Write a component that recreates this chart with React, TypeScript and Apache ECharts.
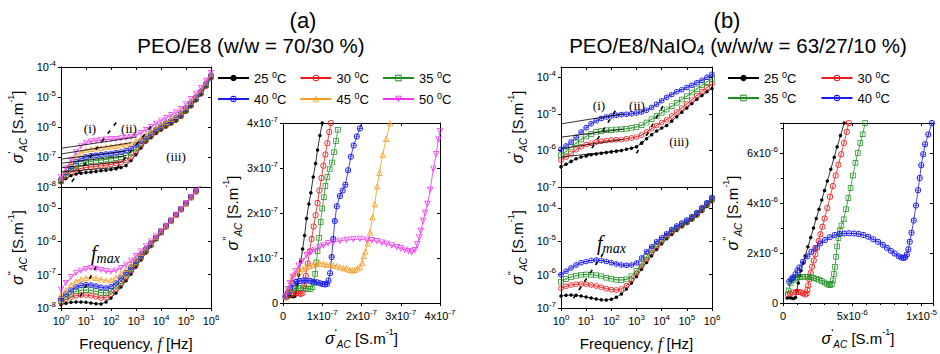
import { useEffect, useRef } from 'react';
import * as echarts from 'echarts';

const FONT = '"Liberation Sans", Arial, Helvetica, sans-serif';
const SERIF = '"Liberation Serif", "Times New Roman", serif';

// ---------------- frequencies (Hz) ----------------
const freqHz = [1, 1.58, 2.51, 3.98, 6.31, 10, 15.8, 25.1, 39.8, 63.1, 100, 158, 251, 398, 631, 1000, 1580, 2510, 3980, 6310, 1e4, 1.58e4, 2.51e4, 3.98e4, 6.31e4, 1e5, 1.58e5, 2.51e5, 3.98e5, 6.31e5, 1e6];

// ---------------- panel (a): sigma' (S/m) ----------------
const aRe25 = [1.41e-8, 1.91e-8, 2.40e-8, 2.69e-8, 2.88e-8, 3.02e-8, 3.16e-8, 3.31e-8, 3.47e-8, 3.63e-8, 3.80e-8, 4.07e-8, 4.47e-8, 5.25e-8, 7.59e-8, 1.20e-7, 2.0e-7, 3.16e-7, 4.37e-7, 6.03e-7, 7.94e-7, 1.0e-6, 1.26e-6, 1.58e-6, 2.14e-6, 3.16e-6, 4.79e-6, 7.59e-6, 1.20e-5, 2.19e-5, 4.17e-5];
const aRe30 = [1.51e-8, 2.24e-8, 3.16e-8, 3.80e-8, 4.17e-8, 4.47e-8, 4.68e-8, 4.90e-8, 5.13e-8, 5.37e-8, 5.62e-8, 6.03e-8, 6.61e-8, 7.59e-8, 1.0e-7, 1.51e-7, 2.40e-7, 3.55e-7, 5.01e-7, 6.76e-7, 8.71e-7, 1.10e-6, 1.35e-6, 1.70e-6, 2.29e-6, 3.39e-6, 5.13e-6, 8.13e-6, 1.29e-5, 2.34e-5, 4.47e-5];
const aRe35 = [1.58e-8, 2.51e-8, 3.80e-8, 5.01e-8, 6.03e-8, 6.76e-8, 7.24e-8, 7.59e-8, 7.94e-8, 8.32e-8, 8.71e-8, 9.33e-8, 1.0e-7, 1.12e-7, 1.38e-7, 1.91e-7, 2.82e-7, 3.98e-7, 5.62e-7, 7.59e-7, 9.77e-7, 1.23e-6, 1.51e-6, 1.91e-6, 2.51e-6, 3.72e-6, 5.62e-6, 8.91e-6, 1.41e-5, 2.51e-5, 4.79e-5];
const aRe40 = [1.78e-8, 3.02e-8, 4.79e-8, 6.92e-8, 8.71e-8, 1.0e-7, 1.10e-7, 1.15e-7, 1.20e-7, 1.26e-7, 1.32e-7, 1.38e-7, 1.48e-7, 1.62e-7, 1.91e-7, 2.51e-7, 3.47e-7, 4.68e-7, 6.31e-7, 8.32e-7, 1.07e-6, 1.35e-6, 1.66e-6, 2.09e-6, 2.75e-6, 4.07e-6, 6.17e-6, 9.77e-6, 1.55e-5, 2.75e-5, 5.25e-5];
const aRe45 = [1.91e-8, 3.55e-8, 6.31e-8, 1.05e-7, 1.45e-7, 1.70e-7, 1.86e-7, 1.95e-7, 2.04e-7, 2.14e-7, 2.24e-7, 2.34e-7, 2.45e-7, 2.63e-7, 2.88e-7, 3.39e-7, 4.27e-7, 5.50e-7, 7.24e-7, 9.55e-7, 1.20e-6, 1.51e-6, 1.86e-6, 2.34e-6, 3.09e-6, 4.57e-6, 6.92e-6, 1.07e-5, 1.70e-5, 3.02e-5, 5.75e-5];
const aRe50 = [2.09e-8, 4.17e-8, 7.94e-8, 1.45e-7, 2.29e-7, 2.95e-7, 3.31e-7, 3.47e-7, 3.63e-7, 3.80e-7, 3.89e-7, 3.98e-7, 4.17e-7, 4.37e-7, 4.68e-7, 5.25e-7, 6.31e-7, 7.94e-7, 1.0e-6, 1.29e-6, 1.62e-6, 2.0e-6, 2.45e-6, 3.02e-6, 3.98e-6, 5.75e-6, 8.51e-6, 1.29e-5, 2.0e-5, 3.47e-5, 6.31e-5];

// ---------------- panel (a): sigma'' (S/m) ----------------
const aIm25 = [1.26e-8, 1.38e-8, 1.48e-8, 1.51e-8, 1.51e-8, 1.48e-8, 1.41e-8, 1.35e-8, 1.32e-8, 1.51e-8, 2.0e-8, 2.82e-8, 4.27e-8, 6.61e-8, 1.05e-7, 1.70e-7, 2.75e-7, 4.47e-7, 7.08e-7, 1.12e-6, 1.74e-6, 2.63e-6, 3.98e-6, 6.03e-6, 9.12e-6, 1.38e-5, 2.09e-5, 3.16e-5, 4.79e-5, 7.24e-5, 1.10e-4];
const aIm30 = [1.51e-8, 1.82e-8, 2.14e-8, 2.34e-8, 2.45e-8, 2.45e-8, 2.34e-8, 2.19e-8, 2.0e-8, 2.09e-8, 2.63e-8, 3.63e-8, 5.37e-8, 8.13e-8, 1.26e-7, 2.0e-7, 3.16e-7, 5.01e-7, 7.76e-7, 1.20e-6, 1.82e-6, 2.75e-6, 4.07e-6, 6.03e-6, 8.91e-6, 1.35e-5, 2.04e-5, 3.09e-5, 4.68e-5, 7.08e-5, 1.07e-4];
const aIm35 = [1.66e-8, 2.14e-8, 2.69e-8, 3.16e-8, 3.39e-8, 3.47e-8, 3.39e-8, 3.16e-8, 2.88e-8, 2.82e-8, 3.31e-8, 4.47e-8, 6.46e-8, 9.55e-8, 1.45e-7, 2.24e-7, 3.55e-7, 5.50e-7, 8.32e-7, 1.26e-6, 1.91e-6, 2.82e-6, 4.17e-6, 6.17e-6, 9.12e-6, 1.38e-5, 2.09e-5, 3.16e-5, 4.79e-5, 7.24e-5, 1.10e-4];
const aIm40 = [1.91e-8, 2.63e-8, 3.47e-8, 4.27e-8, 4.79e-8, 5.01e-8, 4.90e-8, 4.57e-8, 4.17e-8, 3.98e-8, 4.37e-8, 5.62e-8, 7.94e-8, 1.15e-7, 1.70e-7, 2.57e-7, 3.98e-7, 6.03e-7, 8.91e-7, 1.32e-6, 1.95e-6, 2.88e-6, 4.27e-6, 6.31e-6, 9.33e-6, 1.41e-5, 2.14e-5, 3.24e-5, 4.90e-5, 7.41e-5, 1.12e-4];
const aIm45 = [2.51e-8, 3.55e-8, 5.01e-8, 6.31e-8, 7.41e-8, 8.13e-8, 8.32e-8, 7.94e-8, 7.24e-8, 6.76e-8, 6.92e-8, 8.32e-8, 1.10e-7, 1.51e-7, 2.14e-7, 3.09e-7, 4.57e-7, 6.61e-7, 9.55e-7, 1.38e-6, 2.0e-6, 2.88e-6, 4.27e-6, 6.31e-6, 9.33e-6, 1.41e-5, 2.14e-5, 3.24e-5, 4.90e-5, 7.41e-5, 1.12e-4];
const aIm50 = [3.55e-8, 5.62e-8, 8.32e-8, 1.10e-7, 1.32e-7, 1.48e-7, 1.55e-7, 1.51e-7, 1.38e-7, 1.26e-7, 1.23e-7, 1.32e-7, 1.58e-7, 2.0e-7, 2.63e-7, 3.63e-7, 5.01e-7, 7.08e-7, 1.0e-6, 1.41e-6, 2.04e-6, 2.95e-6, 4.27e-6, 6.31e-6, 9.33e-6, 1.41e-5, 2.14e-5, 3.24e-5, 4.90e-5, 7.41e-5, 1.12e-4];

// ---------------- panel (a): Nyquist, units of 1e-7 S/m ----------------
const nyqA25Re = [0.05, 0.1, 0.15, 0.2, 0.25, 0.3, 0.33, 0.36, 0.4, 0.45, 0.5, 0.55, 0.6, 0.66, 0.71, 0.77, 0.83, 0.88, 0.94, 1.0];
const nyqA25Im = [0.15, 0.14, 0.14, 0.15, 0.14, 0.15, 0.22, 0.4, 0.62, 0.92, 1.2, 1.5, 1.88, 2.2, 2.45, 2.8, 3.1, 3.4, 3.72, 4.0];
const nyqA30Re = [0.08, 0.14, 0.2, 0.27, 0.34, 0.4, 0.45, 0.5, 0.54, 0.58, 0.63, 0.68, 0.73, 0.78, 0.83, 0.88, 0.93, 0.98, 1.03, 1.08, 1.13, 1.18, 1.22];
const nyqA30Im = [0.12, 0.16, 0.19, 0.21, 0.22, 0.22, 0.2, 0.22, 0.38, 0.6, 0.88, 1.15, 1.42, 1.7, 1.95, 2.22, 2.5, 2.78, 3.05, 3.3, 3.55, 3.8, 4.0];
const nyqA35Re = [0.08, 0.15, 0.22, 0.3, 0.38, 0.45, 0.52, 0.58, 0.64, 0.7, 0.75, 0.79, 0.82, 0.85, 0.88, 0.92, 0.96, 1.0, 1.04, 1.08, 1.13, 1.19, 1.25, 1.3, 1.35, 1.4];
const nyqA35Im = [0.15, 0.25, 0.3, 0.32, 0.33, 0.33, 0.33, 0.32, 0.31, 0.31, 0.35, 0.45, 0.65, 0.9, 1.15, 1.45, 1.8, 2.1, 2.35, 2.6, 2.8, 2.97, 3.12, 3.35, 3.6, 3.85];
const nyqA40Re = [0.06, 0.12, 0.18, 0.26, 0.34, 0.43, 0.52, 0.6, 0.69, 0.77, 0.86, 0.94, 1.01, 1.07, 1.12, 1.16, 1.2, 1.24, 1.28, 1.32, 1.37, 1.45, 1.52, 1.59, 1.66, 1.73, 1.8, 1.88, 1.96, 2.03];
const nyqA40Im = [0.14, 0.22, 0.33, 0.44, 0.47, 0.49, 0.5, 0.5, 0.49, 0.48, 0.46, 0.44, 0.42, 0.41, 0.42, 0.5, 0.66, 1.02, 1.42, 1.82, 2.15, 2.38, 2.5, 2.63, 2.95, 3.25, 3.5, 3.7, 3.88, 4.1];
const nyqA45Re = [0.07, 0.14, 0.2, 0.26, 0.34, 0.43, 0.51, 0.59, 0.68, 0.77, 0.86, 0.94, 1.03, 1.11, 1.2, 1.28, 1.37, 1.45, 1.54, 1.62, 1.7, 1.77, 1.83, 1.9, 1.96, 2.02, 2.06, 2.1, 2.16, 2.22, 2.28, 2.34, 2.4, 2.46, 2.54, 2.63, 2.73];
const nyqA45Im = [0.15, 0.32, 0.5, 0.62, 0.68, 0.72, 0.76, 0.8, 0.83, 0.85, 0.87, 0.88, 0.87, 0.85, 0.85, 0.84, 0.82, 0.8, 0.78, 0.77, 0.74, 0.73, 0.74, 0.77, 0.8, 0.9, 1.05, 1.15, 1.33, 1.57, 1.91, 2.2, 2.6, 2.9, 3.3, 3.65, 4.0];
const nyqA50Re = [0.07, 0.12, 0.18, 0.25, 0.32, 0.4, 0.48, 0.6, 0.71, 0.82, 0.93, 1.03, 1.15, 1.28, 1.45, 1.62, 1.79, 1.96, 2.13, 2.26, 2.39, 2.52, 2.64, 2.77, 2.9, 3.0, 3.1, 3.2, 3.28, 3.36, 3.42, 3.47, 3.51, 3.57, 3.62, 3.68, 3.75, 3.83, 3.9, 3.96, 4.0];
const nyqA50Im = [0.15, 0.3, 0.44, 0.58, 0.7, 0.82, 0.93, 1.06, 1.13, 1.18, 1.24, 1.28, 1.32, 1.35, 1.38, 1.4, 1.41, 1.42, 1.4, 1.39, 1.37, 1.34, 1.31, 1.28, 1.24, 1.21, 1.18, 1.15, 1.13, 1.17, 1.3, 1.45, 1.6, 1.82, 2.0, 2.2, 2.51, 2.98, 3.3, 3.63, 3.81];

// ---------------- panel (b): sigma' (S/m) ----------------
const bRe25 = [3.55e-7, 4.17e-7, 5.01e-7, 5.89e-7, 6.61e-7, 7.08e-7, 7.59e-7, 7.94e-7, 8.32e-7, 8.71e-7, 9.12e-7, 9.55e-7, 1.0e-6, 1.07e-6, 1.15e-6, 1.26e-6, 1.58e-6, 2.09e-6, 2.69e-6, 3.39e-6, 4.07e-6, 4.79e-6, 6.31e-6, 8.32e-6, 1.10e-5, 1.45e-5, 1.91e-5, 2.51e-5, 3.16e-5, 3.98e-5, 4.90e-5];
const bRe30 = [5.50e-7, 6.61e-7, 8.32e-7, 1.05e-6, 1.26e-6, 1.45e-6, 1.58e-6, 1.70e-6, 1.78e-6, 1.86e-6, 1.91e-6, 1.95e-6, 2.0e-6, 2.09e-6, 2.19e-6, 2.34e-6, 2.63e-6, 3.16e-6, 3.89e-6, 4.79e-6, 5.75e-6, 6.92e-6, 8.71e-6, 1.12e-5, 1.45e-5, 1.86e-5, 2.40e-5, 3.16e-5, 4.07e-5, 5.25e-5, 6.61e-5];
const bRe35 = [7.41e-7, 9.33e-7, 1.23e-6, 1.58e-6, 2.0e-6, 2.40e-6, 2.82e-6, 3.16e-6, 3.39e-6, 3.55e-6, 3.63e-6, 3.72e-6, 3.80e-6, 3.89e-6, 4.07e-6, 4.37e-6, 4.90e-6, 5.75e-6, 7.08e-6, 8.71e-6, 1.07e-5, 1.32e-5, 1.62e-5, 2.0e-5, 2.45e-5, 3.02e-5, 3.80e-5, 4.79e-5, 6.03e-5, 7.41e-5, 9.12e-5];
const bRe40 = [1.07e-6, 1.32e-6, 1.70e-6, 2.29e-6, 3.16e-6, 4.17e-6, 5.37e-6, 6.46e-6, 7.41e-6, 8.13e-6, 8.71e-6, 9.12e-6, 9.55e-6, 9.77e-6, 1.0e-5, 1.05e-5, 1.12e-5, 1.26e-5, 1.48e-5, 1.82e-5, 2.29e-5, 2.82e-5, 3.39e-5, 3.98e-5, 4.57e-5, 5.25e-5, 6.03e-5, 7.08e-5, 8.32e-5, 1.0e-4, 1.20e-4];

// ---------------- panel (b): sigma'' (S/m) ----------------
const bIm25 = [2.29e-7, 2.40e-7, 2.45e-7, 2.40e-7, 2.29e-7, 2.14e-7, 2.0e-7, 1.86e-7, 1.78e-7, 1.74e-7, 1.82e-7, 2.09e-7, 2.63e-7, 3.72e-7, 5.62e-7, 8.91e-7, 1.45e-6, 2.34e-6, 3.72e-6, 5.75e-6, 8.51e-6, 1.20e-5, 1.62e-5, 2.14e-5, 2.75e-5, 3.47e-5, 4.37e-5, 5.75e-5, 7.94e-5, 1.12e-4, 1.58e-4];
const bIm30 = [3.89e-7, 4.47e-7, 4.90e-7, 5.13e-7, 5.25e-7, 5.13e-7, 4.90e-7, 4.57e-7, 4.17e-7, 3.80e-7, 3.55e-7, 3.47e-7, 3.72e-7, 4.68e-7, 6.92e-7, 1.10e-6, 1.78e-6, 2.88e-6, 4.57e-6, 6.92e-6, 1.0e-5, 1.38e-5, 1.82e-5, 2.40e-5, 3.02e-5, 3.72e-5, 4.68e-5, 6.31e-5, 8.71e-5, 1.23e-4, 1.78e-4];
const bIm35 = [6.17e-7, 7.41e-7, 8.51e-7, 9.33e-7, 1.0e-6, 1.02e-6, 1.0e-6, 9.55e-7, 8.91e-7, 8.13e-7, 7.59e-7, 7.08e-7, 6.92e-7, 7.24e-7, 8.91e-7, 1.32e-6, 2.14e-6, 3.47e-6, 5.50e-6, 8.13e-6, 1.12e-5, 1.51e-5, 2.0e-5, 2.57e-5, 3.24e-5, 3.98e-5, 5.01e-5, 6.76e-5, 9.33e-5, 1.32e-4, 1.91e-4];
const bIm40 = [1.0e-6, 1.26e-6, 1.58e-6, 1.95e-6, 2.29e-6, 2.51e-6, 2.69e-6, 2.75e-6, 2.69e-6, 2.51e-6, 2.29e-6, 2.09e-6, 1.95e-6, 1.91e-6, 1.95e-6, 2.24e-6, 3.16e-6, 5.01e-6, 7.08e-6, 1.0e-5, 1.32e-5, 1.74e-5, 2.29e-5, 2.88e-5, 3.55e-5, 4.37e-5, 5.50e-5, 7.41e-5, 1.02e-4, 1.45e-4, 2.09e-4];

// ---------------- panel (b): Nyquist, units of 1e-6 S/m ----------------
const nyqB25Re = [0.3, 0.45, 0.6, 0.75, 0.9, 1.0, 1.1, 1.2, 1.3, 1.45, 1.6, 1.8, 2.0, 2.2, 2.4, 2.6, 2.8, 3.0, 3.2, 3.45, 3.7, 3.91, 4.15, 4.42];
const nyqB25Im = [0.2, 0.22, 0.2, 0.18, 0.22, 0.5, 0.8, 1.1, 1.3, 1.6, 1.88, 2.25, 2.62, 3.0, 3.38, 3.75, 4.12, 4.5, 4.88, 5.35, 5.83, 6.25, 6.7, 7.2];
const nyqB30Re = [0.35, 0.5, 0.7, 0.95, 1.15, 1.3, 1.45, 1.6, 1.7, 1.76, 1.82, 1.9, 2.0, 2.1, 2.22, 2.34, 2.46, 2.58, 2.7, 2.85, 3.0, 3.2, 3.4, 3.6, 3.8, 4.0, 4.2, 4.4, 4.6, 4.75];
const nyqB30Im = [0.35, 0.38, 0.42, 0.44, 0.44, 0.42, 0.38, 0.34, 0.38, 0.52, 0.7, 0.95, 1.2, 1.45, 1.7, 1.95, 2.2, 2.48, 2.75, 3.05, 3.38, 3.8, 4.25, 4.68, 5.1, 5.53, 5.95, 6.4, 6.85, 7.2];
const nyqB35Re = [0.4, 0.55, 0.7, 0.85, 1.0, 1.2, 1.4, 1.6, 1.8, 2.0, 2.2, 2.4, 2.6, 2.8, 3.0, 3.15, 3.3, 3.42, 3.52, 3.6, 3.68, 3.75, 3.83, 3.91, 4.0, 4.1, 4.22, 4.38, 4.55, 4.72, 4.88, 5.05, 5.23, 5.4, 5.58, 5.75, 5.93];
const nyqB35Im = [0.5, 0.8, 0.92, 0.98, 1.02, 1.04, 1.05, 1.05, 1.05, 1.03, 1.0, 0.97, 0.93, 0.88, 0.82, 0.77, 0.73, 0.72, 0.76, 0.9, 1.16, 1.45, 1.85, 2.26, 2.6, 2.9, 3.1, 3.35, 3.75, 4.2, 4.6, 5.1, 5.61, 6.0, 6.4, 6.75, 7.2];
const nyqB40Re = [0.45, 0.6, 0.72, 0.9, 1.05, 1.18, 1.45, 1.76, 2.05, 2.34, 2.68, 3.03, 3.38, 3.73, 4.08, 4.42, 4.77, 5.12, 5.46, 5.81, 6.16, 6.51, 6.86, 7.2, 7.5, 7.78, 8.06, 8.35, 8.55, 8.7, 8.82, 8.94, 9.05, 9.15, 9.28, 9.44, 9.6, 9.75, 9.87, 9.98, 10.12, 10.26, 10.49, 10.75];
const nyqB40Im = [0.85, 0.95, 1.02, 1.15, 1.3, 1.42, 1.65, 1.87, 2.05, 2.2, 2.38, 2.52, 2.63, 2.72, 2.76, 2.78, 2.79, 2.78, 2.76, 2.72, 2.65, 2.55, 2.45, 2.33, 2.21, 2.09, 1.98, 1.87, 1.82, 1.8, 1.83, 1.94, 2.15, 2.45, 2.81, 3.3, 3.9, 4.51, 5.0, 5.51, 5.95, 6.35, 6.74, 7.2];

// ---------------- guide lines (data coordinates) ----------------
const aPlateauLines = [
  [[1, 3.2e-8], [250, 4.6e-8]],
  [[1, 4.4e-8], [300, 7.0e-8]],
  [[1, 6.2e-8], [400, 1.1e-7]],
  [[1, 8.5e-8], [400, 1.6e-7]],
  [[1, 1.26e-7], [630, 3.0e-7]],
  [[1, 1.95e-7], [1000, 4.6e-7]],
];
const aBoundaryI = [[2.7, 1.5e-8], [170, 1.5e-6]];
const aBoundaryII = [[170, 4.2e-8], [5800, 1.5e-6]];
const aFmaxLine = [[5.8, 2.2e-8], [27, 1.9e-7]];
const bPlateauLines = [
  [[1, 6.6e-7], [300, 1.0e-6]],
  [[1, 1.12e-6], [300, 2.0e-6]],
  [[1, 2.3e-6], [300, 3.8e-6]],
  [[1, 5.3e-6], [300, 1.0e-5]],
];
const bBoundaryI = [[10.5, 6.8e-7], [162, 1.38e-5]];
const bBoundaryII = [[1000, 8.3e-7], [11700, 1.7e-5]];
const bFmaxLine = [[3.1, 1.95e-7], [48, 4.4e-6]];

const legendRowsA = [['25 °C', '30 °C', '35 °C'], ['40 °C', '45 °C', '50 °C']];
const legendRowsB = [['25 °C', '30 °C'], ['35 °C', '40 °C']];

// ---------------- symbols ----------------
const SYM_RING_DOT = 'path://M10,0A10,10 0 1,1 10,20A10,10 0 1,1 10,0ZM10,2.6A7.4,7.4 0 1,0 10,17.4A7.4,7.4 0 1,0 10,2.6ZM10,8A2,2 0 1,1 10,12A2,2 0 1,1 10,8Z';
const SYM_SQUARE_DOT = 'path://M0,0H20V20H0ZM2.6,2.6V17.4H17.4V2.6ZM8,8H12V12H8Z';
const SYM_CIRCLE_PLUS = 'path://M10,0A10,10 0 1,1 10,20A10,10 0 1,1 10,0ZM10,2.6A7.4,7.4 0 1,0 10,17.4A7.4,7.4 0 1,0 10,2.6ZM2.6,9H17.4V11H2.6ZM9,2.6H11V17.4H9Z';
const SYM_TRI_UP = 'path://M10,0L20,20H0ZM10,4.9L3.6,17.8H16.4ZM10,12A1.8,1.8 0 1,1 10,15.6A1.8,1.8 0 1,1 10,12Z';
const SYM_TRI_DOWN = 'path://M0,0H20L10,20ZM3.6,2.2L10,15.1L16.4,2.2ZM10,4.4A1.8,1.8 0 1,1 10,8A1.8,1.8 0 1,1 10,4.4Z';

const STYLE: Record<string, { color: string; symbol: string; left: number; nyq: number }> = {
  '25 °C': { color: '#000000', symbol: 'circle', left: 3.5, nyq: 3.5 },
  '30 °C': { color: '#f01a1a', symbol: SYM_RING_DOT, left: 5.5, nyq: 6 },
  '35 °C': { color: '#1e8f1e', symbol: SYM_SQUARE_DOT, left: 5.5, nyq: 5.5 },
  '40 °C': { color: '#1a1aee', symbol: SYM_CIRCLE_PLUS, left: 5.5, nyq: 6 },
  '45 °C': { color: '#f39c1f', symbol: SYM_TRI_UP, left: 6, nyq: 6.5 },
  '50 °C': { color: '#ee33ee', symbol: SYM_TRI_DOWN, left: 6, nyq: 6.5 },
};

const panelA = [
  { name: '25 °C', re: aRe25, im: aIm25, nre: nyqA25Re, nim: nyqA25Im },
  { name: '30 °C', re: aRe30, im: aIm30, nre: nyqA30Re, nim: nyqA30Im },
  { name: '35 °C', re: aRe35, im: aIm35, nre: nyqA35Re, nim: nyqA35Im },
  { name: '40 °C', re: aRe40, im: aIm40, nre: nyqA40Re, nim: nyqA40Im },
  { name: '45 °C', re: aRe45, im: aIm45, nre: nyqA45Re, nim: nyqA45Im },
  { name: '50 °C', re: aRe50, im: aIm50, nre: nyqA50Re, nim: nyqA50Im },
];
const panelB = [
  { name: '25 °C', re: bRe25, im: bIm25, nre: nyqB25Re, nim: nyqB25Im },
  { name: '30 °C', re: bRe30, im: bIm30, nre: nyqB30Re, nim: nyqB30Im },
  { name: '35 °C', re: bRe35, im: bIm35, nre: nyqB35Re, nim: nyqB35Im },
  { name: '40 °C', re: bRe40, im: bIm40, nre: nyqB40Re, nim: nyqB40Im },
];

// ---------------- helpers ----------------
const pairs = (xs: number[], ys: number[]) => xs.map((x, i) => [x, ys[i]]);

const labelRich = {
  b: { fontSize: 11, lineHeight: 16, fontFamily: FONT, color: '#000' },
  s: { fontSize: 8, lineHeight: 7, verticalAlign: 'top', fontFamily: FONT, color: '#000' },
};

const nameRich = {
  g: { fontSize: 16, fontStyle: 'italic', fontFamily: FONT, lineHeight: 22, color: '#000' },
  p: { fontSize: 11, fontFamily: FONT, lineHeight: 10, verticalAlign: 'top', color: '#000' },
  a: { fontSize: 10, fontStyle: 'italic', fontFamily: FONT, lineHeight: 10, verticalAlign: 'bottom', color: '#000' },
  t: { fontSize: 15, fontFamily: FONT, lineHeight: 22, color: '#000' },
  s: { fontSize: 9, fontFamily: FONT, lineHeight: 10, verticalAlign: 'top', color: '#000' },
  f: { fontSize: 16, fontStyle: 'italic', fontFamily: SERIF, lineHeight: 22, color: '#000' },
};

const sigmaName = (primes: string) => `{g|σ}{p|${primes}}{a|AC}{t| [S.m}{s|-1}{t|]}`;
const freqName = '{t|Frequency, }{f|f}{t| [Hz]}';

const decadeLabel = (v: number) => {
  const e = Math.log10(v);
  const r = Math.round(e);
  if (Math.abs(e - r) > 0.02) return '';
  return `{b|10}{s|${r}}`;
};

const sciLabel = (unitExp: number) => (v: number) => {
  if (Math.abs(v) < 1e-9) return '{b|0}';
  const e = Math.floor(Math.log10(v) + 1e-9);
  const m = Math.round(v / Math.pow(10, e));
  return `{b|${m}x10}{s|${e + unitExp}}`;
};

type AxisCfg = {
  type: 'log' | 'value';
  min: number;
  max: number;
  labels: boolean;
  showMax: boolean;
  formatter?: (v: number) => string;
  interval?: number;
  minorSplit?: number;
  name?: string;
  nameGap?: number;
};

function mainAxis(grid: number, pos: string, c: AxisCfg) {
  const ax: any = {
    type: c.type,
    gridIndex: grid,
    position: pos,
    min: c.min,
    max: c.max,
    axisLine: { show: true, onZero: false, lineStyle: { color: '#000', width: 1 } },
    axisTick: { show: true, inside: false, length: 3, lineStyle: { color: '#000', width: 1 } },
    axisLabel: {
      show: c.labels,
      formatter: c.formatter,
      rich: labelRich,
      margin: 5,
      showMaxLabel: c.showMax,
      showMinLabel: true,
      color: '#000',
      fontFamily: FONT,
    },
    splitLine: { show: false },
  };
  if (c.type === 'log') ax.logBase = 10;
  if (c.interval !== undefined) ax.interval = c.interval;
  if (c.minorSplit) ax.minorTick = { show: true, splitNumber: c.minorSplit, length: 2, lineStyle: { color: '#000' } };
  if (c.name) {
    ax.name = c.name;
    ax.nameLocation = 'middle';
    ax.nameGap = c.nameGap;
    ax.nameTextStyle = { rich: nameRich, color: '#000', fontFamily: FONT };
    if (pos === 'left') ax.nameRotate = 90;
  }
  return ax;
}

function mirrorAxis(grid: number, pos: string, c: AxisCfg) {
  const ax: any = {
    type: c.type,
    gridIndex: grid,
    position: pos,
    min: c.min,
    max: c.max,
    axisLine: { show: true, onZero: false, lineStyle: { color: '#000', width: 1 } },
    axisTick: { show: true, inside: true, length: 3, lineStyle: { color: '#000', width: 1 } },
    axisLabel: { show: false },
    splitLine: { show: false },
  };
  if (c.type === 'log') ax.logBase = 10;
  if (c.interval !== undefined) ax.interval = c.interval;
  return ax;
}

function dataSeries(name: string, grid: number, data: number[][], size: number, z: number) {
  const st = STYLE[name];
  return {
    type: 'line',
    name,
    xAxisIndex: grid * 2,
    yAxisIndex: grid * 2,
    data,
    symbol: st.symbol,
    symbolSize: size,
    symbolKeepAspect: true,
    showSymbol: true,
    clip: true,
    silent: true,
    lineStyle: { color: st.color, width: 0.8 },
    itemStyle: { color: st.color },
    emphasis: { disabled: true },
    z,
  };
}

function guideSeries(grid: number, data: number[][], dashed: boolean) {
  return {
    type: 'line',
    xAxisIndex: grid * 2,
    yAxisIndex: grid * 2,
    data,
    symbol: 'none',
    silent: true,
    clip: true,
    lineStyle: { color: '#000', width: dashed ? 1.6 : 0.8, type: dashed ? [4, 6] : 'solid' },
    emphasis: { disabled: true },
    z: 6,
  };
}

function text(x: number, y: number, str: string, size: number, family: string, extra: any = {}) {
  return {
    type: 'text',
    x,
    y,
    silent: true,
    z: 100,
    style: { text: str, fill: '#000', fontSize: size, fontFamily: family, align: 'center', verticalAlign: 'middle', ...extra },
  };
}

function buildOption() {
  const grids = [
    { left: 61, top: 67, width: 150, height: 120 },
    { left: 61, top: 187, width: 150, height: 121 },
    { left: 283, top: 123, width: 157, height: 184 },
    { left: 561, top: 67, width: 151, height: 120 },
    { left: 561, top: 187, width: 151, height: 121 },
    { left: 783, top: 123, width: 156, height: 185 },
  ];

  const xCfg: AxisCfg[] = [
    { type: 'log', min: 1, max: 1e6, labels: false, showMax: true, formatter: decadeLabel },
    { type: 'log', min: 1, max: 1e6, labels: true, showMax: true, formatter: decadeLabel, name: freqName, nameGap: 24 },
    { type: 'value', min: 0, max: 4, interval: 1, labels: true, showMax: true, formatter: sciLabel(-7), name: sigmaName("'"), nameGap: 24 },
    { type: 'log', min: 1, max: 1e6, labels: false, showMax: true, formatter: decadeLabel },
    { type: 'log', min: 1, max: 1e6, labels: true, showMax: true, formatter: decadeLabel, name: freqName, nameGap: 24 },
    { type: 'value', min: 0, max: 10.83, interval: 5, minorSplit: 5, labels: true, showMax: false, formatter: sciLabel(-6), name: sigmaName("'"), nameGap: 24 },
  ];
  const yCfg: AxisCfg[] = [
    { type: 'log', min: 1e-8, max: 1e-4, labels: true, showMax: true, formatter: decadeLabel, name: sigmaName("'"), nameGap: 33 },
    { type: 'log', min: 1e-8, max: 4.3e-5, labels: true, showMax: false, formatter: decadeLabel, name: sigmaName("''"), nameGap: 33 },
    { type: 'value', min: 0, max: 4, interval: 1, labels: true, showMax: true, formatter: sciLabel(-7), name: sigmaName("''"), nameGap: 36 },
    { type: 'log', min: 1e-7, max: 1.9e-4, labels: true, showMax: false, formatter: decadeLabel, name: sigmaName("'"), nameGap: 33 },
    { type: 'log', min: 1e-7, max: 4.3e-4, labels: true, showMax: false, formatter: decadeLabel, name: sigmaName("''"), nameGap: 33 },
    { type: 'value', min: 0, max: 7.2, interval: 2, minorSplit: 2, labels: true, showMax: false, formatter: sciLabel(-6), name: sigmaName("''"), nameGap: 36 },
  ];
  const xAxis: any[] = [];
  const yAxis: any[] = [];
  grids.forEach((_, g) => {
    xAxis.push(mainAxis(g, 'bottom', xCfg[g]));
    xAxis.push(mirrorAxis(g, 'top', xCfg[g]));
    yAxis.push(mainAxis(g, 'left', yCfg[g]));
    yAxis.push(mirrorAxis(g, 'right', yCfg[g]));
  });

  const series: any[] = [];
  panelA.forEach((p, i) => {
    series.push(dataSeries(p.name, 0, pairs(freqHz, p.re), STYLE[p.name].left, 2 + i * 0.01));
    series.push(dataSeries(p.name, 1, pairs(freqHz, p.im), STYLE[p.name].left, 2 + i * 0.01));
    series.push(dataSeries(p.name, 2, pairs(p.nre, p.nim), STYLE[p.name].nyq, 2 + i * 0.01));
  });
  panelB.forEach((p, i) => {
    series.push(dataSeries(p.name, 3, pairs(freqHz, p.re), STYLE[p.name].left, 2 + i * 0.01));
    series.push(dataSeries(p.name, 4, pairs(freqHz, p.im), STYLE[p.name].left, 2 + i * 0.01));
    series.push(dataSeries(p.name, 5, pairs(p.nre, p.nim), STYLE[p.name].nyq, 2 + i * 0.01));
  });
  aPlateauLines.forEach((l) => series.push(guideSeries(0, l, false)));
  series.push(guideSeries(0, aBoundaryI, true));
  series.push(guideSeries(0, aBoundaryII, true));
  series.push(guideSeries(1, aFmaxLine, true));
  bPlateauLines.forEach((l) => series.push(guideSeries(3, l, false)));
  series.push(guideSeries(3, bBoundaryI, true));
  series.push(guideSeries(3, bBoundaryII, true));
  series.push(guideSeries(4, bFmaxLine, true));

  const legendBase = {
    orient: 'horizontal',
    itemWidth: 31,
    itemHeight: 8,
    selectedMode: false,
    padding: 0,
    textStyle: {
      color: '#000',
      fontFamily: FONT,
      fontSize: 13,
      rich: {
        n: { fontSize: 13, lineHeight: 16, fontFamily: FONT, color: '#000' },
        s: { fontSize: 9, lineHeight: 8, verticalAlign: 'top', fontFamily: FONT, color: '#000' },
      },
    },
    formatter: (name: string) => `{n|${name.replace(' °C', '')} }{s|0}{n|C}`,
  };
  const legend = [
    { ...legendBase, data: legendRowsA[0], left: 217, top: 70, itemGap: 13 },
    { ...legendBase, data: legendRowsA[1], left: 217, top: 91, itemGap: 13 },
    { ...legendBase, data: legendRowsB[0], left: 727, top: 70, itemGap: 24 },
    { ...legendBase, data: legendRowsB[1], left: 727, top: 90, itemGap: 24 },
  ];

  const fmaxRich = {
    f: { fontSize: 20, fontStyle: 'italic', fontFamily: SERIF, lineHeight: 24, fill: '#000' },
    m: { fontSize: 14, fontStyle: 'italic', fontFamily: SERIF, lineHeight: 12, verticalAlign: 'bottom', fill: '#000' },
  };
  const graphic = [
    text(303, 20, '(a)', 22, FONT),
    text(251, 45, 'PEO/E8 (w/w = 70/30 %)', 20.5, FONT),
    text(727, 20, '(b)', 22, FONT),
    text(738, 45, '{t|PEO/E8/NaIO}{s|4}{t| (w/w/w = 63/27/10 %)}', 20.5, FONT, {
      rich: {
        t: { fontSize: 20.5, fontFamily: FONT, lineHeight: 24, fill: '#000' },
        s: { fontSize: 14, fontFamily: FONT, lineHeight: 10, verticalAlign: 'bottom', fill: '#000' },
      },
    }),
    text(90, 128, '(i)', 13, SERIF),
    text(129, 128, '(ii)', 13, SERIF),
    text(176, 156, '(iii)', 13, SERIF),
    text(599, 105, '(i)', 13, SERIF),
    text(637, 105, '(ii)', 13, SERIF),
    text(679, 141, '(iii)', 13, SERIF),
    text(91, 253, '{f|f}{m|max}', 20, SERIF, { align: 'left', rich: fmaxRich }),
    text(597, 243, '{f|f}{m|max}', 20, SERIF, { align: 'left', rich: fmaxRich }),
  ];

  return {
    animation: false,
    backgroundColor: '#ffffff',
    textStyle: { fontFamily: FONT },
    grid: grids.map((g) => ({ ...g, containLabel: false, show: false })),
    xAxis,
    yAxis,
    legend,
    series,
    graphic,
  };
}

export default function App() {
  const ref = useRef<HTMLDivElement>(null);
  useEffect(() => {
    if (!ref.current) return;
    const chart = echarts.init(ref.current, undefined, { renderer: 'svg', width: 940, height: 354 });
    chart.setOption(buildOption() as any);
    return () => chart.dispose();
  }, []);
  return (
    <div
      ref={ref}
      style={{ position: 'absolute', left: 0, top: 0, width: 940, height: 354, background: '#fff' }}
    />
  );
}
